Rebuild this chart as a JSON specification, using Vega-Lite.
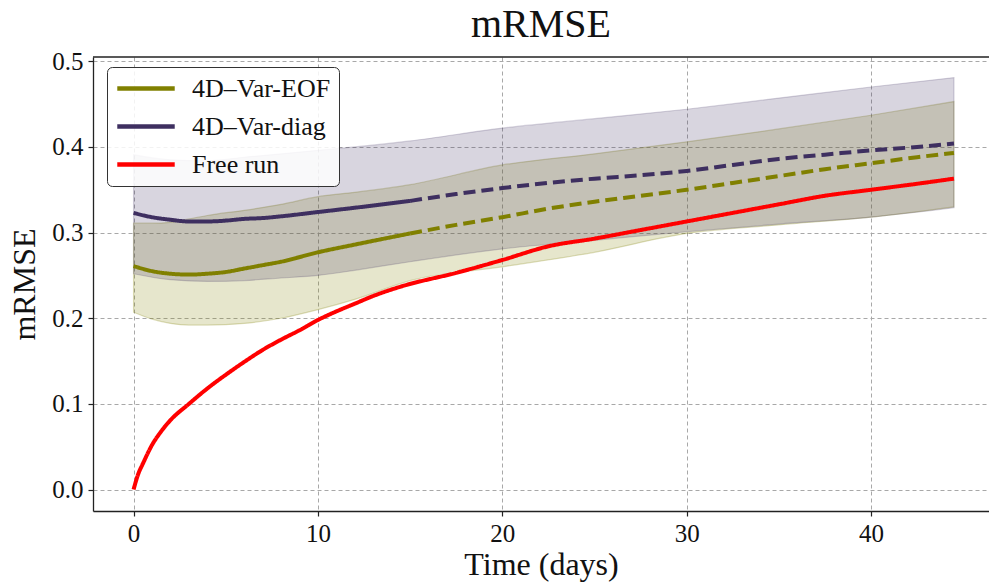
{
  "$schema": "https://vega.github.io/schema/vega-lite/v6.json",
  "autosize": {"type": "none"},
  "width": 896,
  "height": 454,
  "padding": {"left": 93, "top": 57, "right": 0, "bottom": 74},
  "background": "white",
  "title": {"text": "mRMSE", "font": "Liberation Serif", "fontSize": 40, "fontWeight": "normal", "color": "#111", "anchor": "middle", "offset": 4},
  "config": {
    "view": {"stroke": null},
    "axis": {
      "labelFont": "Liberation Serif", "labelFontSize": 25, "labelColor": "#111",
      "titleFont": "Liberation Serif", "titleFontSize": 32, "titleFontWeight": "normal", "titleColor": "#111",
      "domainColor": "#222", "domainWidth": 1.3, "tickColor": "#222", "tickSize": 5, "tickWidth": 1.2,
      "gridColor": "#a8a8a8", "gridDash": [4, 3], "gridWidth": 1
    },
    "legend": {
      "labelFont": "Liberation Serif", "labelFontSize": 26, "labelColor": "#111"
    }
  },
  "datasets": {
    "bands": [
      {"day": 0, "s": "diag", "lo": 0.252, "hi": 0.391},
      {"day": 2, "s": "diag", "lo": 0.245, "hi": 0.385},
      {"day": 4, "s": "diag", "lo": 0.243, "hi": 0.384},
      {"day": 6, "s": "diag", "lo": 0.244, "hi": 0.388},
      {"day": 8, "s": "diag", "lo": 0.247, "hi": 0.392},
      {"day": 10, "s": "diag", "lo": 0.250, "hi": 0.396},
      {"day": 12, "s": "diag", "lo": 0.256, "hi": 0.400},
      {"day": 15, "s": "diag", "lo": 0.266, "hi": 0.407},
      {"day": 20, "s": "diag", "lo": 0.281, "hi": 0.422},
      {"day": 25, "s": "diag", "lo": 0.291, "hi": 0.433},
      {"day": 30, "s": "diag", "lo": 0.301, "hi": 0.444},
      {"day": 35, "s": "diag", "lo": 0.310, "hi": 0.457},
      {"day": 40, "s": "diag", "lo": 0.318, "hi": 0.470},
      {"day": 44.5, "s": "diag", "lo": 0.329, "hi": 0.481},
      {"day": 0, "s": "eof", "lo": 0.207, "hi": 0.311},
      {"day": 1, "s": "eof", "lo": 0.199, "hi": 0.311},
      {"day": 2, "s": "eof", "lo": 0.194, "hi": 0.312},
      {"day": 3, "s": "eof", "lo": 0.192, "hi": 0.316},
      {"day": 4, "s": "eof", "lo": 0.192, "hi": 0.320},
      {"day": 6, "s": "eof", "lo": 0.194, "hi": 0.326},
      {"day": 8, "s": "eof", "lo": 0.200, "hi": 0.333},
      {"day": 10, "s": "eof", "lo": 0.210, "hi": 0.342},
      {"day": 12, "s": "eof", "lo": 0.222, "hi": 0.347},
      {"day": 15, "s": "eof", "lo": 0.244, "hi": 0.356},
      {"day": 20, "s": "eof", "lo": 0.260, "hi": 0.379},
      {"day": 25, "s": "eof", "lo": 0.277, "hi": 0.392},
      {"day": 30, "s": "eof", "lo": 0.299, "hi": 0.406},
      {"day": 35, "s": "eof", "lo": 0.309, "hi": 0.421},
      {"day": 40, "s": "eof", "lo": 0.318, "hi": 0.437},
      {"day": 44.5, "s": "eof", "lo": 0.330, "hi": 0.453}
    ],
    "lines": [
      {"day": 0, "series": "4D–Var-diag", "part": "solid", "v": 0.323},
      {"day": 1, "series": "4D–Var-diag", "part": "solid", "v": 0.318},
      {"day": 2, "series": "4D–Var-diag", "part": "solid", "v": 0.315},
      {"day": 3, "series": "4D–Var-diag", "part": "solid", "v": 0.313},
      {"day": 4, "series": "4D–Var-diag", "part": "solid", "v": 0.313},
      {"day": 5, "series": "4D–Var-diag", "part": "solid", "v": 0.314},
      {"day": 6, "series": "4D–Var-diag", "part": "solid", "v": 0.316},
      {"day": 7, "series": "4D–Var-diag", "part": "solid", "v": 0.317},
      {"day": 8, "series": "4D–Var-diag", "part": "solid", "v": 0.319},
      {"day": 10, "series": "4D–Var-diag", "part": "solid", "v": 0.324},
      {"day": 12, "series": "4D–Var-diag", "part": "solid", "v": 0.329},
      {"day": 15, "series": "4D–Var-diag", "part": "solid", "v": 0.337},
      {"day": 15, "series": "4D–Var-diag", "part": "dashed", "v": 0.337},
      {"day": 17.5, "series": "4D–Var-diag", "part": "dashed", "v": 0.345},
      {"day": 20, "series": "4D–Var-diag", "part": "dashed", "v": 0.352},
      {"day": 22.5, "series": "4D–Var-diag", "part": "dashed", "v": 0.358},
      {"day": 25, "series": "4D–Var-diag", "part": "dashed", "v": 0.363},
      {"day": 27.5, "series": "4D–Var-diag", "part": "dashed", "v": 0.367},
      {"day": 30, "series": "4D–Var-diag", "part": "dashed", "v": 0.372},
      {"day": 32.5, "series": "4D–Var-diag", "part": "dashed", "v": 0.379},
      {"day": 35, "series": "4D–Var-diag", "part": "dashed", "v": 0.386},
      {"day": 37.5, "series": "4D–Var-diag", "part": "dashed", "v": 0.391},
      {"day": 40, "series": "4D–Var-diag", "part": "dashed", "v": 0.396},
      {"day": 42.5, "series": "4D–Var-diag", "part": "dashed", "v": 0.400},
      {"day": 44.5, "series": "4D–Var-diag", "part": "dashed", "v": 0.404},
      {"day": 0, "series": "4D–Var-EOF", "part": "solid", "v": 0.261},
      {"day": 1, "series": "4D–Var-EOF", "part": "solid", "v": 0.255},
      {"day": 2, "series": "4D–Var-EOF", "part": "solid", "v": 0.252},
      {"day": 3, "series": "4D–Var-EOF", "part": "solid", "v": 0.251},
      {"day": 4, "series": "4D–Var-EOF", "part": "solid", "v": 0.252},
      {"day": 5, "series": "4D–Var-EOF", "part": "solid", "v": 0.254},
      {"day": 6, "series": "4D–Var-EOF", "part": "solid", "v": 0.258},
      {"day": 7, "series": "4D–Var-EOF", "part": "solid", "v": 0.262},
      {"day": 8, "series": "4D–Var-EOF", "part": "solid", "v": 0.266},
      {"day": 10, "series": "4D–Var-EOF", "part": "solid", "v": 0.277},
      {"day": 12, "series": "4D–Var-EOF", "part": "solid", "v": 0.286},
      {"day": 15, "series": "4D–Var-EOF", "part": "solid", "v": 0.299},
      {"day": 15, "series": "4D–Var-EOF", "part": "dashed", "v": 0.299},
      {"day": 17.5, "series": "4D–Var-EOF", "part": "dashed", "v": 0.309},
      {"day": 20, "series": "4D–Var-EOF", "part": "dashed", "v": 0.318},
      {"day": 22.5, "series": "4D–Var-EOF", "part": "dashed", "v": 0.328},
      {"day": 25, "series": "4D–Var-EOF", "part": "dashed", "v": 0.336},
      {"day": 27.5, "series": "4D–Var-EOF", "part": "dashed", "v": 0.343},
      {"day": 30, "series": "4D–Var-EOF", "part": "dashed", "v": 0.350},
      {"day": 32.5, "series": "4D–Var-EOF", "part": "dashed", "v": 0.358},
      {"day": 35, "series": "4D–Var-EOF", "part": "dashed", "v": 0.366},
      {"day": 37.5, "series": "4D–Var-EOF", "part": "dashed", "v": 0.374},
      {"day": 40, "series": "4D–Var-EOF", "part": "dashed", "v": 0.381},
      {"day": 42.5, "series": "4D–Var-EOF", "part": "dashed", "v": 0.388},
      {"day": 44.5, "series": "4D–Var-EOF", "part": "dashed", "v": 0.393},
      {"day": 0, "series": "Free run", "part": "solid", "v": 0.0},
      {"day": 0.25, "series": "Free run", "part": "solid", "v": 0.018},
      {"day": 0.5, "series": "Free run", "part": "solid", "v": 0.030},
      {"day": 1, "series": "Free run", "part": "solid", "v": 0.052},
      {"day": 1.5, "series": "Free run", "part": "solid", "v": 0.068},
      {"day": 2, "series": "Free run", "part": "solid", "v": 0.081},
      {"day": 3, "series": "Free run", "part": "solid", "v": 0.100},
      {"day": 4, "series": "Free run", "part": "solid", "v": 0.118},
      {"day": 5, "series": "Free run", "part": "solid", "v": 0.134},
      {"day": 6, "series": "Free run", "part": "solid", "v": 0.149},
      {"day": 7, "series": "Free run", "part": "solid", "v": 0.163},
      {"day": 8, "series": "Free run", "part": "solid", "v": 0.175},
      {"day": 9, "series": "Free run", "part": "solid", "v": 0.186},
      {"day": 10, "series": "Free run", "part": "solid", "v": 0.198},
      {"day": 11, "series": "Free run", "part": "solid", "v": 0.208},
      {"day": 12, "series": "Free run", "part": "solid", "v": 0.217},
      {"day": 13, "series": "Free run", "part": "solid", "v": 0.226},
      {"day": 14.5, "series": "Free run", "part": "solid", "v": 0.237},
      {"day": 17.5, "series": "Free run", "part": "solid", "v": 0.253},
      {"day": 20, "series": "Free run", "part": "solid", "v": 0.268},
      {"day": 22.5, "series": "Free run", "part": "solid", "v": 0.284},
      {"day": 25, "series": "Free run", "part": "solid", "v": 0.293},
      {"day": 27.5, "series": "Free run", "part": "solid", "v": 0.303},
      {"day": 30, "series": "Free run", "part": "solid", "v": 0.313},
      {"day": 32.5, "series": "Free run", "part": "solid", "v": 0.323},
      {"day": 35, "series": "Free run", "part": "solid", "v": 0.333},
      {"day": 37.5, "series": "Free run", "part": "solid", "v": 0.343},
      {"day": 40, "series": "Free run", "part": "solid", "v": 0.350},
      {"day": 42.5, "series": "Free run", "part": "solid", "v": 0.357},
      {"day": 44.5, "series": "Free run", "part": "solid", "v": 0.363}
    ]
  },
  "layer": [
    {
      "data": {"name": "bands"},
      "transform": [{"filter": "datum.s === 'eof'"}],
      "mark": {"type": "area", "color": "#808000", "fillOpacity": 0.2, "stroke": "#808000", "strokeOpacity": 0.25, "strokeWidth": 1.2, "interpolate": "monotone"},
      "encoding": {
        "x": {"field": "day", "type": "quantitative", "scale": {"domain": [-2.2, 46.4], "nice": false, "zero": false},
              "axis": {"values": [0, 10, 20, 30, 40], "title": "Time (days)", "labelPadding": 5, "titlePadding": 3, "format": "d"}},
        "y": {"field": "lo", "type": "quantitative", "scale": {"domain": [-0.025, 0.505], "nice": false, "zero": false},
              "axis": {"values": [0, 0.1, 0.2, 0.3, 0.4, 0.5], "format": ".1f", "title": "mRMSE", "labelPadding": 5, "titlePadding": 10}},
        "y2": {"field": "hi"}
      }
    },
    {
      "data": {"name": "bands"},
      "transform": [{"filter": "datum.s === 'diag'"}],
      "mark": {"type": "area", "color": "#3e2f60", "fillOpacity": 0.2, "stroke": "#3e2f60", "strokeOpacity": 0.2, "strokeWidth": 1.2, "interpolate": "monotone"},
      "encoding": {
        "x": {"field": "day", "type": "quantitative"},
        "y": {"field": "lo", "type": "quantitative"},
        "y2": {"field": "hi"}
      }
    },
    {
      "data": {"name": "lines"},
      "mark": {"type": "line", "strokeWidth": 4, "interpolate": "monotone"},
      "encoding": {
        "x": {"field": "day", "type": "quantitative"},
        "y": {"field": "v", "type": "quantitative"},
        "color": {"field": "series", "type": "nominal",
          "scale": {"domain": ["4D–Var-EOF", "4D–Var-diag", "Free run"], "range": ["#808000", "#3e2f60", "#ff0000"]},
          "legend": {"title": null, "orient": "none", "legendX": 14, "legendY": 10, "symbolType": "stroke", "symbolSize": 3300, "symbolStrokeWidth": 4.5,
                     "clipHeight": 27, "rowPadding": 11, "labelOffset": 15, "padding": 8,
                     "strokeColor": "#333", "fillColor": "rgba(255,255,255,0.85)", "cornerRadius": 5}},
        "strokeDash": {"field": "part", "type": "nominal", "scale": {"domain": ["solid", "dashed"], "range": [[1, 0], [12, 6]]}, "legend": null}
      }
    },
    {
      "data": {"values": [{"top": 0.505}]},
      "mark": {"type": "rule", "color": "#222", "strokeWidth": 1.3},
      "encoding": {"y": {"field": "top", "type": "quantitative"}}
    }
  ]
}
